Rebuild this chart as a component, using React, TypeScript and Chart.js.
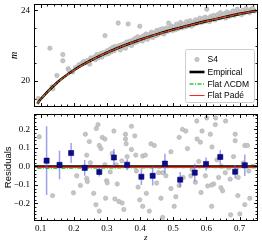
import React, { useEffect, useRef } from 'react';
import { Chart, registerables } from 'chart.js';
Chart.register(...registerables);

// ---------- axes ----------
const X_MIN = 0.08;
const X_MAX = 0.754;
const M_MIN = 18.55;
const M_MAX = 24.32;
const R_MIN = -0.29;
const R_MAX = 0.28;
const xTicks = [0.1, 0.2, 0.3, 0.4, 0.5, 0.6, 0.7];
const mTicks = [20, 24];
const resTicks = [-0.2, -0.1, 0, 0.1, 0.2];

// ---------- model curves (top panel) ----------
const curveZ = [0.09, 0.1, 0.15, 0.2, 0.25, 0.3, 0.35, 0.4, 0.45, 0.5, 0.55, 0.6, 0.65, 0.7, 0.75];
const empiricalM = [18.71, 18.96, 19.91, 20.6, 21.14, 21.6, 21.99, 22.33, 22.63, 22.9, 23.15, 23.38, 23.59, 23.79, 23.97];
const lcdmM = [18.70, 18.95, 19.90, 20.59, 21.13, 21.59, 21.98, 22.32, 22.62, 22.89, 23.14, 23.37, 23.58, 23.78, 23.96];
const padeM = [18.71, 18.96, 19.91, 20.6, 21.14, 21.6, 21.99, 22.33, 22.63, 22.9, 23.15, 23.38, 23.59, 23.79, 23.97];

// ---------- S4 data (top panel) ----------
const s4Z = [
  0.093, 0.128, 0.134, 0.137, 0.149, 0.167, 0.167, 0.183, 0.186, 0.197,
  0.205, 0.215, 0.222, 0.228, 0.232, 0.238, 0.242, 0.248, 0.251, 0.256, 0.262, 0.265, 0.27, 0.274, 0.278, 0.282, 0.285, 0.289, 0.294, 0.296, 0.3,
  0.305, 0.31, 0.313, 0.318, 0.322, 0.326, 0.33, 0.334, 0.337, 0.34, 0.345, 0.348, 0.352, 0.356, 0.36, 0.364, 0.366, 0.37, 0.374, 0.378, 0.382, 0.385, 0.39, 0.393, 0.399, 0.398,
  0.403, 0.407, 0.41, 0.415, 0.418, 0.422, 0.426, 0.43, 0.434, 0.438, 0.441, 0.446, 0.45, 0.453, 0.457, 0.46, 0.465, 0.468, 0.472, 0.476, 0.48, 0.486, 0.484, 0.49, 0.494, 0.498,
  0.503, 0.507, 0.51, 0.514, 0.518, 0.522, 0.526, 0.53, 0.535, 0.54, 0.543, 0.547, 0.551, 0.555, 0.559, 0.563, 0.567, 0.571, 0.575, 0.58, 0.584, 0.588, 0.592, 0.596,
  0.6, 0.605, 0.609, 0.613, 0.618, 0.622, 0.626, 0.63, 0.634, 0.638, 0.642, 0.646, 0.65, 0.655, 0.658, 0.662, 0.667, 0.67, 0.675, 0.68, 0.684, 0.688, 0.693, 0.697, 0.702, 0.706, 0.71, 0.715, 0.72, 0.725, 0.73, 0.735, 0.74, 0.745, 0.601
];
const s4M = [
  19.0, 21.85, 19.65, 19.55, 20.3, 21.49, 21.14, 20.69, 20.6, 20.5,
  20.75, 20.9, 20.95, 21.05, 21.1, 21.05, 21.15, 20.95, 21.3, 21.25, 21.35, 21.2, 21.5, 21.3, 21.42, 21.55, 21.35, 21.6, 22.56, 21.5, 21.7,
  21.55, 21.8, 21.65, 21.9, 21.7, 21.95, 21.85, 23.27, 22.0, 21.75, 22.05, 21.9, 22.1, 21.85, 22.2, 23.22, 22.05, 22.25, 22.0, 22.3, 22.15, 22.4, 22.2, 22.5, 23.09, 22.3,
  22.45, 22.25, 22.55, 22.4, 22.65, 22.35, 22.6, 22.5, 22.75, 22.45, 22.7, 22.55, 22.85, 22.6, 22.75, 22.9, 22.7, 22.95, 22.65, 22.85, 23.0, 23.27, 22.8, 22.95, 23.1, 22.85,
  23.05, 22.9, 23.2, 22.95, 23.1, 23.3, 23.0, 23.2, 23.05, 23.35, 23.1, 23.25, 23.4, 23.1, 23.3, 23.2, 23.45, 23.25, 23.4, 23.55, 23.3, 23.5, 23.35, 23.6,
  23.4, 23.55, 23.35, 23.65, 23.5, 23.7, 23.45, 23.6, 23.75, 23.55, 23.85, 23.6, 23.7, 23.8, 23.55, 23.9, 23.75, 23.65, 23.85, 23.95, 23.7, 23.85, 24.05, 23.8, 23.9, 23.75, 24.0, 23.85, 24.1, 23.95, 23.85, 24.05, 24.1, 23.95, 24.05
];

// ---------- residuals (bottom panel) ----------
const resZ = [
  0.096, 0.136, 0.199, 0.209, 0.22, 0.235, 0.239, 0.239, 0.241, 0.247, 0.26, 0.268, 0.267, 0.273, 0.277, 0.277, 0.282, 0.286, 0.294, 0.294,
  0.299, 0.301, 0.296, 0.316, 0.321, 0.324, 0.328, 0.331, 0.336, 0.346, 0.351, 0.356, 0.356, 0.358, 0.361, 0.374, 0.384, 0.374, 0.387, 0.408,
  0.416, 0.389, 0.394, 0.399, 0.419, 0.408, 0.428, 0.433, 0.443, 0.456, 0.468, 0.463, 0.478, 0.493, 0.493, 0.518, 0.518, 0.508, 0.503, 0.528,
  0.538, 0.543, 0.553, 0.557, 0.567, 0.572, 0.582, 0.577, 0.587, 0.597, 0.602, 0.612, 0.617, 0.622, 0.627, 0.632, 0.637, 0.645, 0.657, 0.667,
  0.672, 0.682, 0.687, 0.687, 0.691, 0.696, 0.711, 0.716, 0.724, 0.728, 0.716, 0.731, 0.741, 0.468, 0.673, 0.701, 0.604, 0.616, 0.644, 0.649,
  0.695, 0.616, 0.584, 0.571, 0.601, 0.628, 0.658, 0.31, 0.25, 0.345, 0.45, 0.53
];
const resVal = [
  0.16, -0.158, -0.143, -0.051, -0.103, 0.174, 0.061, -0.065, -0.082, 0.134, -0.146, 0.205, -0.207, 0.226, -0.242, 0.113, 0.096, 0.157, 0.148, 0.009,
  -0.077, -0.089, -0.172, 0.07, 0.191, -0.176, 0.009, -0.095, -0.19, -0.198, -0.233, 0.174, 0.148, 0.122, 0.053, 0.217, 0.165, 0.091, 0.061, 0.056,
  0.061, -0.025, -0.112, -0.181, -0.146, -0.216, -0.242, 0.122, 0.113, -0.034, -0.034, -0.172, -0.051, -0.12, 0.079, 0.157, -0.103, -0.164, -0.216, 0.2,
  0.191, 0.096, -0.051, -0.017, -0.086, 0.148, 0.131, 0.027, 0.191, -0.051, 0.001, 0.174, 0.105, -0.095, 0.226, 0.035, -0.06, 0.001, -0.034, -0.008,
  -0.069, 0.053, 0.139, 0.174, -0.008, -0.06, 0.018, 0.113, 0.113, -0.025, -0.207, -0.172, 0.001, -0.276, -0.262, -0.257, -0.106, -0.101, -0.115, -0.132,
  -0.158, -0.216, -0.141, 0.245, 0.262, 0.262, 0.245, -0.03, 0.02, 0.03, -0.09, -0.06
];

// binned residuals
const binZ = [0.118, 0.157, 0.192, 0.233, 0.277, 0.321, 0.361, 0.404, 0.438, 0.475, 0.521, 0.565, 0.599, 0.642, 0.687, 0.716];
const binRes = [0.031, 0.008, 0.072, -0.008, -0.03, 0.048, 0.009, -0.056, -0.051, 0.015, -0.072, -0.034, 0.013, 0.051, -0.029, 0.006];
const binErr = [0.186, 0.077, 0.054, 0.043, 0.025, 0.046, 0.03, 0.045, 0.052, 0.053, 0.041, 0.048, 0.035, 0.038, 0.037, 0.058];

// residual model lines
const lineZ = [0.08, 0.754];
const empiricalRes = [0, 0];
const lcdmResZ = [0.09, 0.3, 0.5, 0.75];
const lcdmRes = [-0.011, -0.009, -0.007, -0.006];
const padeResZ = [0.09, 0.75];
const padeRes = [-0.004, -0.004];

const SERIF = '"Liberation Serif", "DejaVu Serif", serif';
const SANS = '"Liberation Sans", Arial, sans-serif';
const GREEN = '#2ecc2e';
const RED = '#ff2020';
const PT_FILL = '#c6c6c6';
const PT_EDGE = '#a8a8a8';

const pts = (xs: number[], ys: number[]) => xs.map((x, i) => ({ x, y: ys[i] }));

function frameTicks(xMajor: number[], xMinor: number[], yMajor: number[], yMinor: number[]) {
  return {
    id: 'frameTicks',
    afterDatasetsDraw(chart: any) {
      const { ctx, chartArea: a, scales } = chart;
      const xs = scales.x, ys = scales.y;
      const L = Math.floor(a.left) + 0.5, R = Math.floor(a.right) + 0.5;
      const T = Math.floor(a.top) + 0.5, B = Math.floor(a.bottom) + 0.5;
      ctx.save();
      ctx.strokeStyle = '#000';
      ctx.lineWidth = 0.9;
      ctx.beginPath();
      const tx = (vals: number[], len: number) => {
        vals.forEach((v) => {
          const p = Math.round(xs.getPixelForValue(v)) + 0.5;
          if (p < L - 0.1 || p > R + 0.1) return;
          ctx.moveTo(p, T); ctx.lineTo(p, T + len);
          ctx.moveTo(p, B); ctx.lineTo(p, B - len);
        });
      };
      const ty = (vals: number[], len: number) => {
        vals.forEach((v) => {
          const p = Math.round(ys.getPixelForValue(v)) + 0.5;
          if (p < T - 0.1 || p > B + 0.1) return;
          ctx.moveTo(L, p); ctx.lineTo(L + len, p);
          ctx.moveTo(R, p); ctx.lineTo(R - len, p);
        });
      };
      tx(xMajor, 3.5); tx(xMinor, 2);
      ty(yMajor, 3.5); ty(yMinor, 2);
      ctx.stroke();
      ctx.lineWidth = 1;
      ctx.strokeRect(L, T, R - L, B - T);
      ctx.restore();
    },
  };
}

const legendPlugin = {
  id: 'boxLegend',
  afterDraw(chart: any) {
    const { ctx, chartArea: a } = chart;
    const w = 69, h = 53;
    const x0 = Math.floor(a.right - 3 - w) + 0.5;
    const y0 = Math.floor(a.bottom - 4 - h) + 0.5;
    ctx.save();
    ctx.beginPath();
    (ctx as any).roundRect(x0, y0, w, h, 2);
    ctx.fillStyle = 'rgba(255,255,255,0.85)';
    ctx.fill();
    ctx.strokeStyle = '#cfcfcf';
    ctx.lineWidth = 1;
    ctx.stroke();
    const ds = chart.data.datasets.slice().reverse();
    const rows = [10, 22.5, 34.5, 46];
    const hx0 = x0 + 4, hx1 = x0 + 19, tx = x0 + 22;
    ctx.font = `8.5px ${SANS}`;
    ctx.textBaseline = 'middle';
    ds.forEach((d: any, i: number) => {
      const yy = y0 + rows[i];
      if (!d.showLine) {
        ctx.beginPath();
        ctx.arc((hx0 + hx1) / 2, yy, 2.2, 0, Math.PI * 2);
        ctx.fillStyle = d.backgroundColor;
        ctx.fill();
        ctx.strokeStyle = d.borderColor;
        ctx.lineWidth = 0.5;
        ctx.stroke();
      } else {
        ctx.beginPath();
        ctx.setLineDash(d.borderDash || []);
        ctx.strokeStyle = d.borderColor;
        ctx.lineWidth = d.borderWidth;
        ctx.moveTo(hx0, yy);
        ctx.lineTo(hx1, yy);
        ctx.stroke();
        ctx.setLineDash([]);
      }
      ctx.fillStyle = '#000';
      ctx.fillText(d.label, tx, yy + 0.5);
    });
    ctx.restore();
  },
};

function minorRange(a: number, b: number, step: number) {
  const out: number[] = [];
  const n = Math.round((b - a) / step);
  for (let i = 0; i <= n; i++) out.push(+(a + i * step).toFixed(4));
  return out;
}

const noGrid = { display: false, drawTicks: false, tickLength: 0 };

export default function App() {
  const topRef = useRef<HTMLCanvasElement>(null);
  const botRef = useRef<HTMLCanvasElement>(null);

  useEffect(() => {
    const xMinor = minorRange(0.08, 0.74, 0.02);
    const top = new Chart(topRef.current as HTMLCanvasElement, {
      type: 'scatter',
      data: {
        datasets: [
          { label: 'Flat Padé', data: pts(curveZ, padeM), showLine: true, borderColor: RED, borderWidth: 1, pointRadius: 0, cubicInterpolationMode: 'monotone', order: 1 } as any,
          { label: 'Flat ΛCDM', data: pts(curveZ, lcdmM), showLine: true, borderColor: GREEN, borderWidth: 1.3, borderDash: [4, 1.5, 1, 1.5], pointRadius: 0, cubicInterpolationMode: 'monotone', order: 2 },
          { label: 'Empirical', data: pts(curveZ, empiricalM), showLine: true, borderColor: '#000', borderWidth: 2.6, pointRadius: 0, cubicInterpolationMode: 'monotone', order: 3 },
          { label: 'S4', data: pts(s4Z, s4M), showLine: false, pointRadius: 2.2, backgroundColor: PT_FILL, borderColor: PT_EDGE, borderWidth: 0.5, order: 4 },
        ],
      },
      options: {
        responsive: false,
        animation: false,
        devicePixelRatio: 1,
        events: [],
        layout: { padding: { top: 2, right: 2, bottom: 1, left: 0 } },
        plugins: { legend: { display: false }, tooltip: { enabled: false } },
        scales: {
          x: { type: 'linear', min: X_MIN, max: X_MAX, display: false },
          y: {
            type: 'linear', min: M_MIN, max: M_MAX,
            grid: noGrid, border: { display: false },
            afterBuildTicks: (s: any) => { s.ticks = mTicks.map((v) => ({ value: v })); },
            afterFit: (s: any) => { s.width = 34; s.paddingTop = 0; s.paddingBottom = 0; },
            ticks: { font: { family: SERIF, size: 9 }, color: '#000', padding: 4, callback: (v: any) => String(v) },
            title: { display: true, text: 'm', color: '#000', font: { family: SERIF, size: 10, style: 'italic', lineHeight: 1.2 }, padding: { top: 8, bottom: 0 } },
          },
        },
      } as any,
      plugins: [frameTicks(xTicks, xMinor, mTicks, minorRange(19, 24, 1)), legendPlugin],
    });

    const errData: any[] = [];
    binZ.forEach((z, i) => {
      errData.push({ x: z, y: binRes[i] - binErr[i] });
      errData.push({ x: z, y: binRes[i] + binErr[i] });
      errData.push({ x: z, y: null });
    });

    const bot = new Chart(botRef.current as HTMLCanvasElement, {
      type: 'scatter',
      data: {
        datasets: [
          { label: 'bins', data: pts(binZ, binRes), showLine: false, pointStyle: 'rect', pointRadius: 3.6, backgroundColor: '#0b0b8e', borderColor: '#00006a', borderWidth: 0.6, order: 1 },
          { label: 'err', data: errData, showLine: true, spanGaps: false, borderColor: 'rgba(95,95,225,0.6)', borderWidth: 1.5, pointRadius: 0, order: 2 } as any,
          { label: 'Flat Padé', data: pts(padeResZ, padeRes), showLine: true, borderColor: RED, borderWidth: 1.2, pointRadius: 0, order: 3 },
          { label: 'Flat ΛCDM', data: pts(lcdmResZ, lcdmRes), showLine: true, borderColor: GREEN, borderWidth: 1.3, borderDash: [4, 1.5, 1, 1.5], pointRadius: 0, order: 4 },
          { label: 'Empirical', data: pts(lineZ, empiricalRes), showLine: true, borderColor: '#000', borderWidth: 2.2, pointRadius: 0, order: 5 },
          { label: 'S4', data: pts(resZ, resVal), showLine: false, pointRadius: 2.2, backgroundColor: PT_FILL, borderColor: PT_EDGE, borderWidth: 0.5, order: 6 },
        ],
      },
      options: {
        responsive: false,
        animation: false,
        devicePixelRatio: 1,
        events: [],
        layout: { padding: { top: 0, right: 2, bottom: 0, left: 0 } },
        plugins: { legend: { display: false }, tooltip: { enabled: false } },
        scales: {
          x: {
            type: 'linear', min: X_MIN, max: X_MAX, position: 'bottom',
            grid: noGrid, border: { display: false },
            afterBuildTicks: (s: any) => { s.ticks = xTicks.map((v) => ({ value: v })); },
            afterFit: (s: any) => { s.height = 22; s.paddingLeft = 0; s.paddingRight = 0; },
            ticks: { font: { family: SERIF, size: 9 }, color: '#000', padding: 3, maxRotation: 0, autoSkip: false, callback: (v: any) => Number(v).toFixed(1) },
            title: { display: true, text: 'z', color: '#000', font: { family: SERIF, size: 9, style: 'italic', lineHeight: 1 }, padding: { top: 0, bottom: 0 } },
          },
          y: {
            type: 'linear', min: R_MIN, max: R_MAX,
            grid: noGrid, border: { display: false },
            afterBuildTicks: (s: any) => { s.ticks = resTicks.map((v) => ({ value: v })); },
            afterFit: (s: any) => { s.width = 34; s.paddingTop = 0; s.paddingBottom = 0; },
            ticks: {
              font: { family: SERIF, size: 9 }, color: '#000', padding: 4,
              callback: (v: any) => (Number(v) < -1e-9 ? '\u2212' : '') + Math.abs(Number(v)).toFixed(1),
            },
            title: { display: true, text: 'Residuals', color: '#000', font: { family: SANS, size: 9.5, lineHeight: 1 }, padding: { top: 4, bottom: 0 } },
          },
        },
      } as any,
      plugins: [frameTicks(xTicks, xMinor, resTicks, minorRange(-0.28, 0.28, 0.02))],
    });

    return () => {
      top.destroy();
      bot.destroy();
    };
  }, []);

  return (
    <div style={{ position: 'absolute', left: 0, top: 0, width: 262, height: 242, background: '#fff' }}>
      <canvas ref={topRef} width={262} height={111} style={{ position: 'absolute', left: 0, top: 0, width: 262, height: 111 }} />
      <canvas ref={botRef} width={262} height={132} style={{ position: 'absolute', left: 0, top: 110, width: 262, height: 132 }} />
    </div>
  );
}
